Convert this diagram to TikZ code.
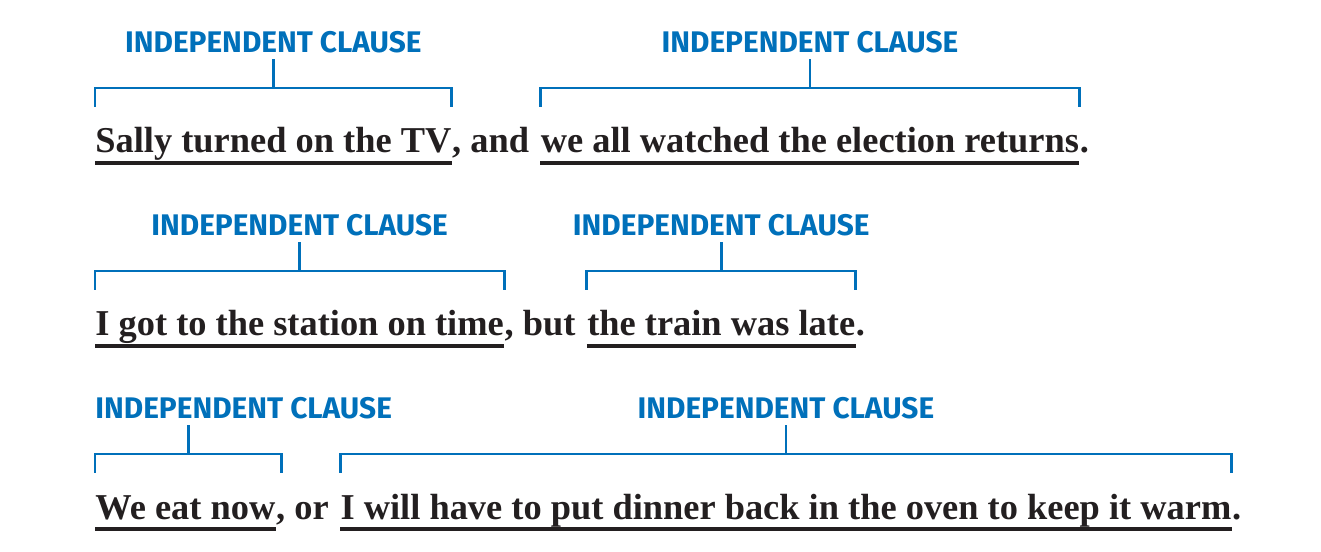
\documentclass[tikz,border=0pt]{standalone}
\usepackage{fontspec}
\setmainfont{Liberation Serif}
\newfontfamily\tagfont{Fira Sans}
\usepackage{tikz}
\usetikzlibrary{positioning, calc}
\definecolor{clauseblue}{RGB}{0,112,186}
\definecolor{ink}{RGB}{35,31,32}

\begin{document}
\begin{tikzpicture}[
  x=0.5pt, y=0.5pt,
  node distance=0pt,
  clause/.style={inner sep=0pt, anchor=base west, font=\fontsize{18.2}{22}\selectfont\bfseries, text=ink},
  glue/.style={inner sep=0pt, font=\fontsize{18.2}{22}\selectfont\bfseries, text=ink},
  tag/.style={inner xsep=0pt, inner ysep=2.5pt, anchor=base, font=\tagfont\fontsize{14.9}{17}\selectfont\bfseries, text=clauseblue},
  brk/.style={draw=clauseblue, line width=1.4pt},
  uline/.style={draw=ink, line width=2.2pt},
]
  \useasboundingbox (0,0) rectangle (1321,551);

  % Sentences
  \node[clause] (c11) at (95, 398) {Sally turned on the TV};
  \node[glue, base right=of c11] (g11) {,\ and};
  \node[clause, base right=5.5pt of g11] (c12) {we all watched the election returns};
  \node[glue, base right=of c12] (g12) {.};

  \node[clause] (c21) at (95, 215) {I got to the station on time};
  \node[glue, base right=of c21] (g21) {,\ but};
  \node[clause, base right=5.5pt of g21] (c22) {the train was late};
  \node[glue, base right=of c22] (g22) {.};

  \node[clause] (c31) at (95, 32) {We eat now};
  \node[glue, base right=of c31] (g31) {,\ or};
  \node[clause, base right=5.5pt of g31] (c32) {I will have to put dinner back in the oven to keep it warm};
  \node[glue, base right=of c32] (g32) {.};

  % Underlines
  \foreach \c in {c11,c12,c21,c22,c31,c32} {
    \draw[uline] ([yshift=-5pt]\c.base west) -- ([yshift=-5pt]\c.base east);
  }

  % Brackets
  \foreach \c in {c11,c12,c21,c22,c32} {
    \draw[brk] ([yshift=23pt]\c.base west) -- ([yshift=32.5pt]\c.base west) -- ([yshift=32.5pt]\c.base east) -- ([yshift=23pt]\c.base east);
    \coordinate (m\c) at ($([yshift=32.5pt]\c.base west)!0.5!([yshift=32.5pt]\c.base east)$);
  }
  \draw[brk] ([yshift=23pt]c31.base west) -- ([yshift=32.5pt]c31.base west) -- ([xshift=3pt, yshift=32.5pt]c31.base east) -- ([xshift=3pt, yshift=23pt]c31.base east);
  \coordinate (mc31) at ($([yshift=32.5pt]c31.base west)!0.5!([xshift=3pt, yshift=32.5pt]c31.base east)$);

  % Labels
  \node[tag] (t11) at ($(mc11)+(0,35)$) {INDEPENDENT CLAUSE};
  \node[tag] (t12) at ($(mc12)+(0,35)$) {INDEPENDENT CLAUSE};
  \node[tag] (t21) at ($(mc21)+(0,35)$) {INDEPENDENT CLAUSE};
  \node[tag] (t22) at ($(mc22)+(0,35)$) {INDEPENDENT CLAUSE};
  \node[tag, anchor=base west] (t31) at ($(c31.base west |- mc31)+(0,35)$) {INDEPENDENT CLAUSE};
  \node[tag] (t32) at ($(mc32)+(0,35)$) {INDEPENDENT CLAUSE};

  % Stems
  \foreach \c in {11,12,21,22,31,32} {
    \draw[brk] (mc\c) -- (mc\c |- t\c.south);
  }
\end{tikzpicture}
\end{document}
